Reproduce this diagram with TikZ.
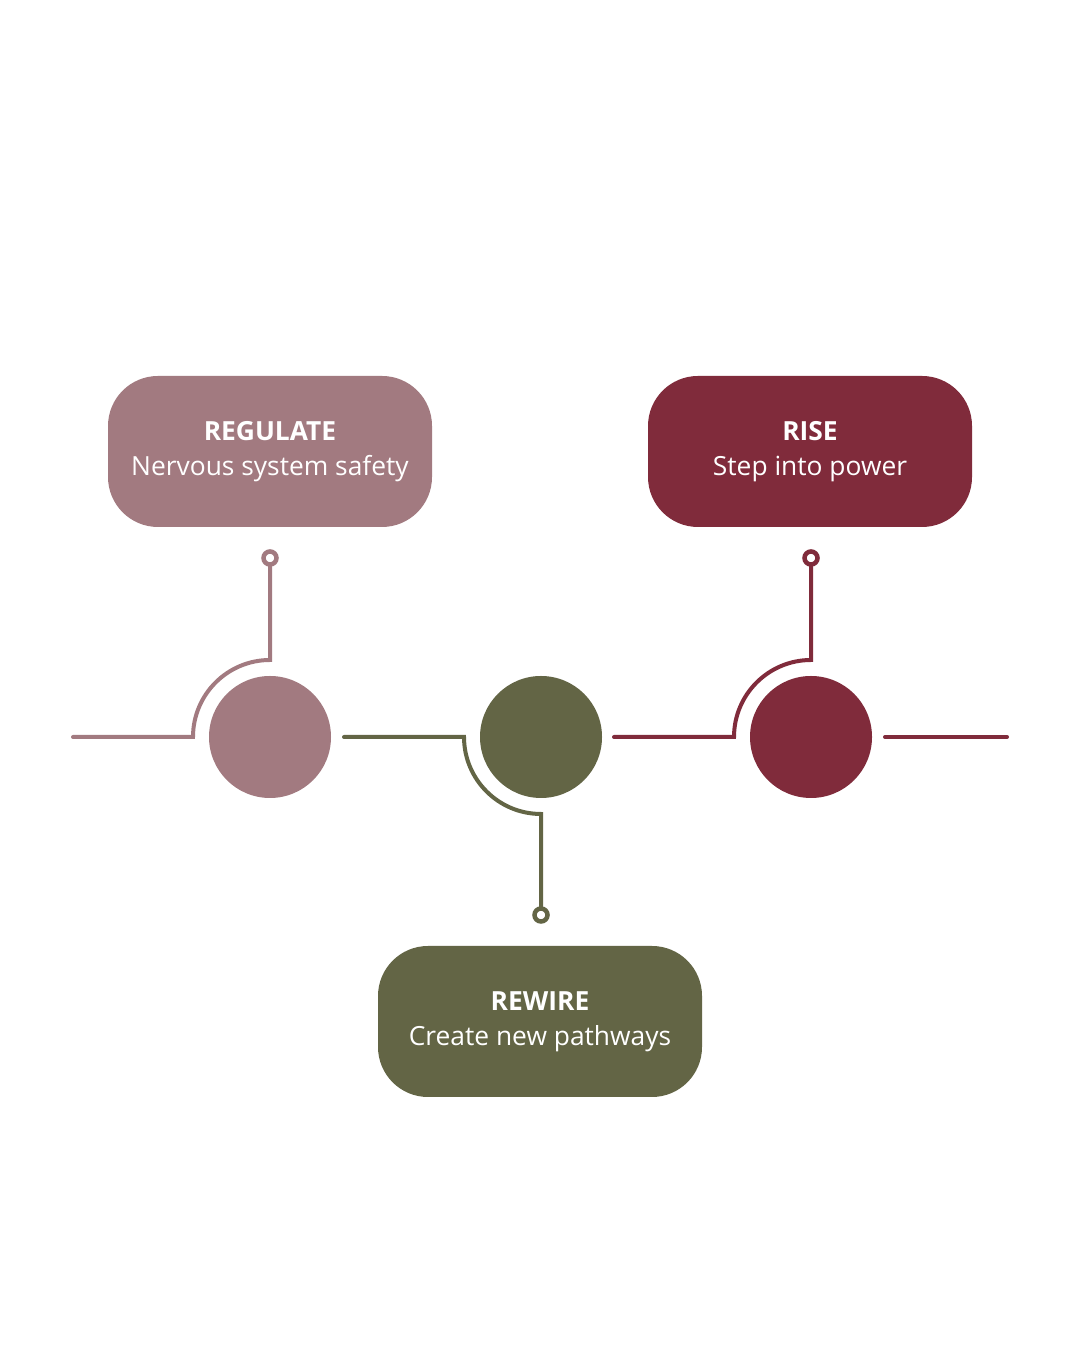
\documentclass[tikz,border=0pt]{standalone}
\usepackage{fontspec}
\setmainfont{Open Sans}
\usepackage{tikz}
\usetikzlibrary{positioning, calc}
\definecolor{regcol}{HTML}{A27A80}
\definecolor{rewcol}{HTML}{636545}
\definecolor{risecol}{HTML}{802B3B}

\begin{document}
\begin{tikzpicture}[
    box/.style={rectangle, rounded corners=1cm, minimum width=6.48cm, minimum height=3.02cm,
                align=center, text=white, font=\fontsize{15}{20}\selectfont, inner sep=0pt},
    dot/.style={circle, minimum size=2.44cm, inner sep=0pt},
    pin/.style={circle, draw, line width=0.09cm, fill=white, minimum size=0.26cm, inner sep=0pt},
    wire/.style={line width=0.08cm, line cap=round, line join=miter}
]
\path[fill=white, use as bounding box] (0,0) rectangle (21.6,27);

% Modules
\node[box, fill=regcol] (regulate) at (5.4,17.97) {\textbf{REGULATE}\\Nervous system safety};
\node[box, fill=risecol] (rise) at (16.2,17.97) {\textbf{RISE}\\Step into power};
\node[box, fill=rewcol] (rewire) at (10.8,6.57) {\textbf{REWIRE}\\Create new pathways};

% Dots
\node[dot, fill=regcol] (regdot) at (5.4,12.26) {};
\node[dot, fill=rewcol] (rewdot) at (10.82,12.26) {};
\node[dot, fill=risecol] (risedot) at (16.22,12.26) {};

% Pins
\node[pin, draw=regcol] (regpin) at (5.4,15.84) {};
\node[pin, draw=risecol] (risepin) at (16.22,15.84) {};
\node[pin, draw=rewcol] (rewpin) at (10.82,8.7) {};

% Wire ends
\coordinate (regstart) at (1.46,12.26);
\coordinate (rewstart) at (6.88,12.26);
\coordinate (risestart) at (12.28,12.26);
\coordinate (endstart) at (17.7,12.26);
\coordinate (endstop) at (20.14,12.26);

% Wires
\draw[wire, regcol] (regstart) -- ($(regdot.center)+(-1.54,0)$) arc[start angle=180, end angle=90, radius=1.54cm] -- (regpin.south);
\draw[wire, rewcol] (rewstart) -- ($(rewdot.center)+(-1.54,0)$) arc[start angle=180, end angle=270, radius=1.54cm] -- (rewpin.north);
\draw[wire, risecol] (risestart) -- ($(risedot.center)+(-1.54,0)$) arc[start angle=180, end angle=90, radius=1.54cm] -- (risepin.south);
\draw[wire, risecol] (endstart) -- (endstop);
\end{tikzpicture}
\end{document}
